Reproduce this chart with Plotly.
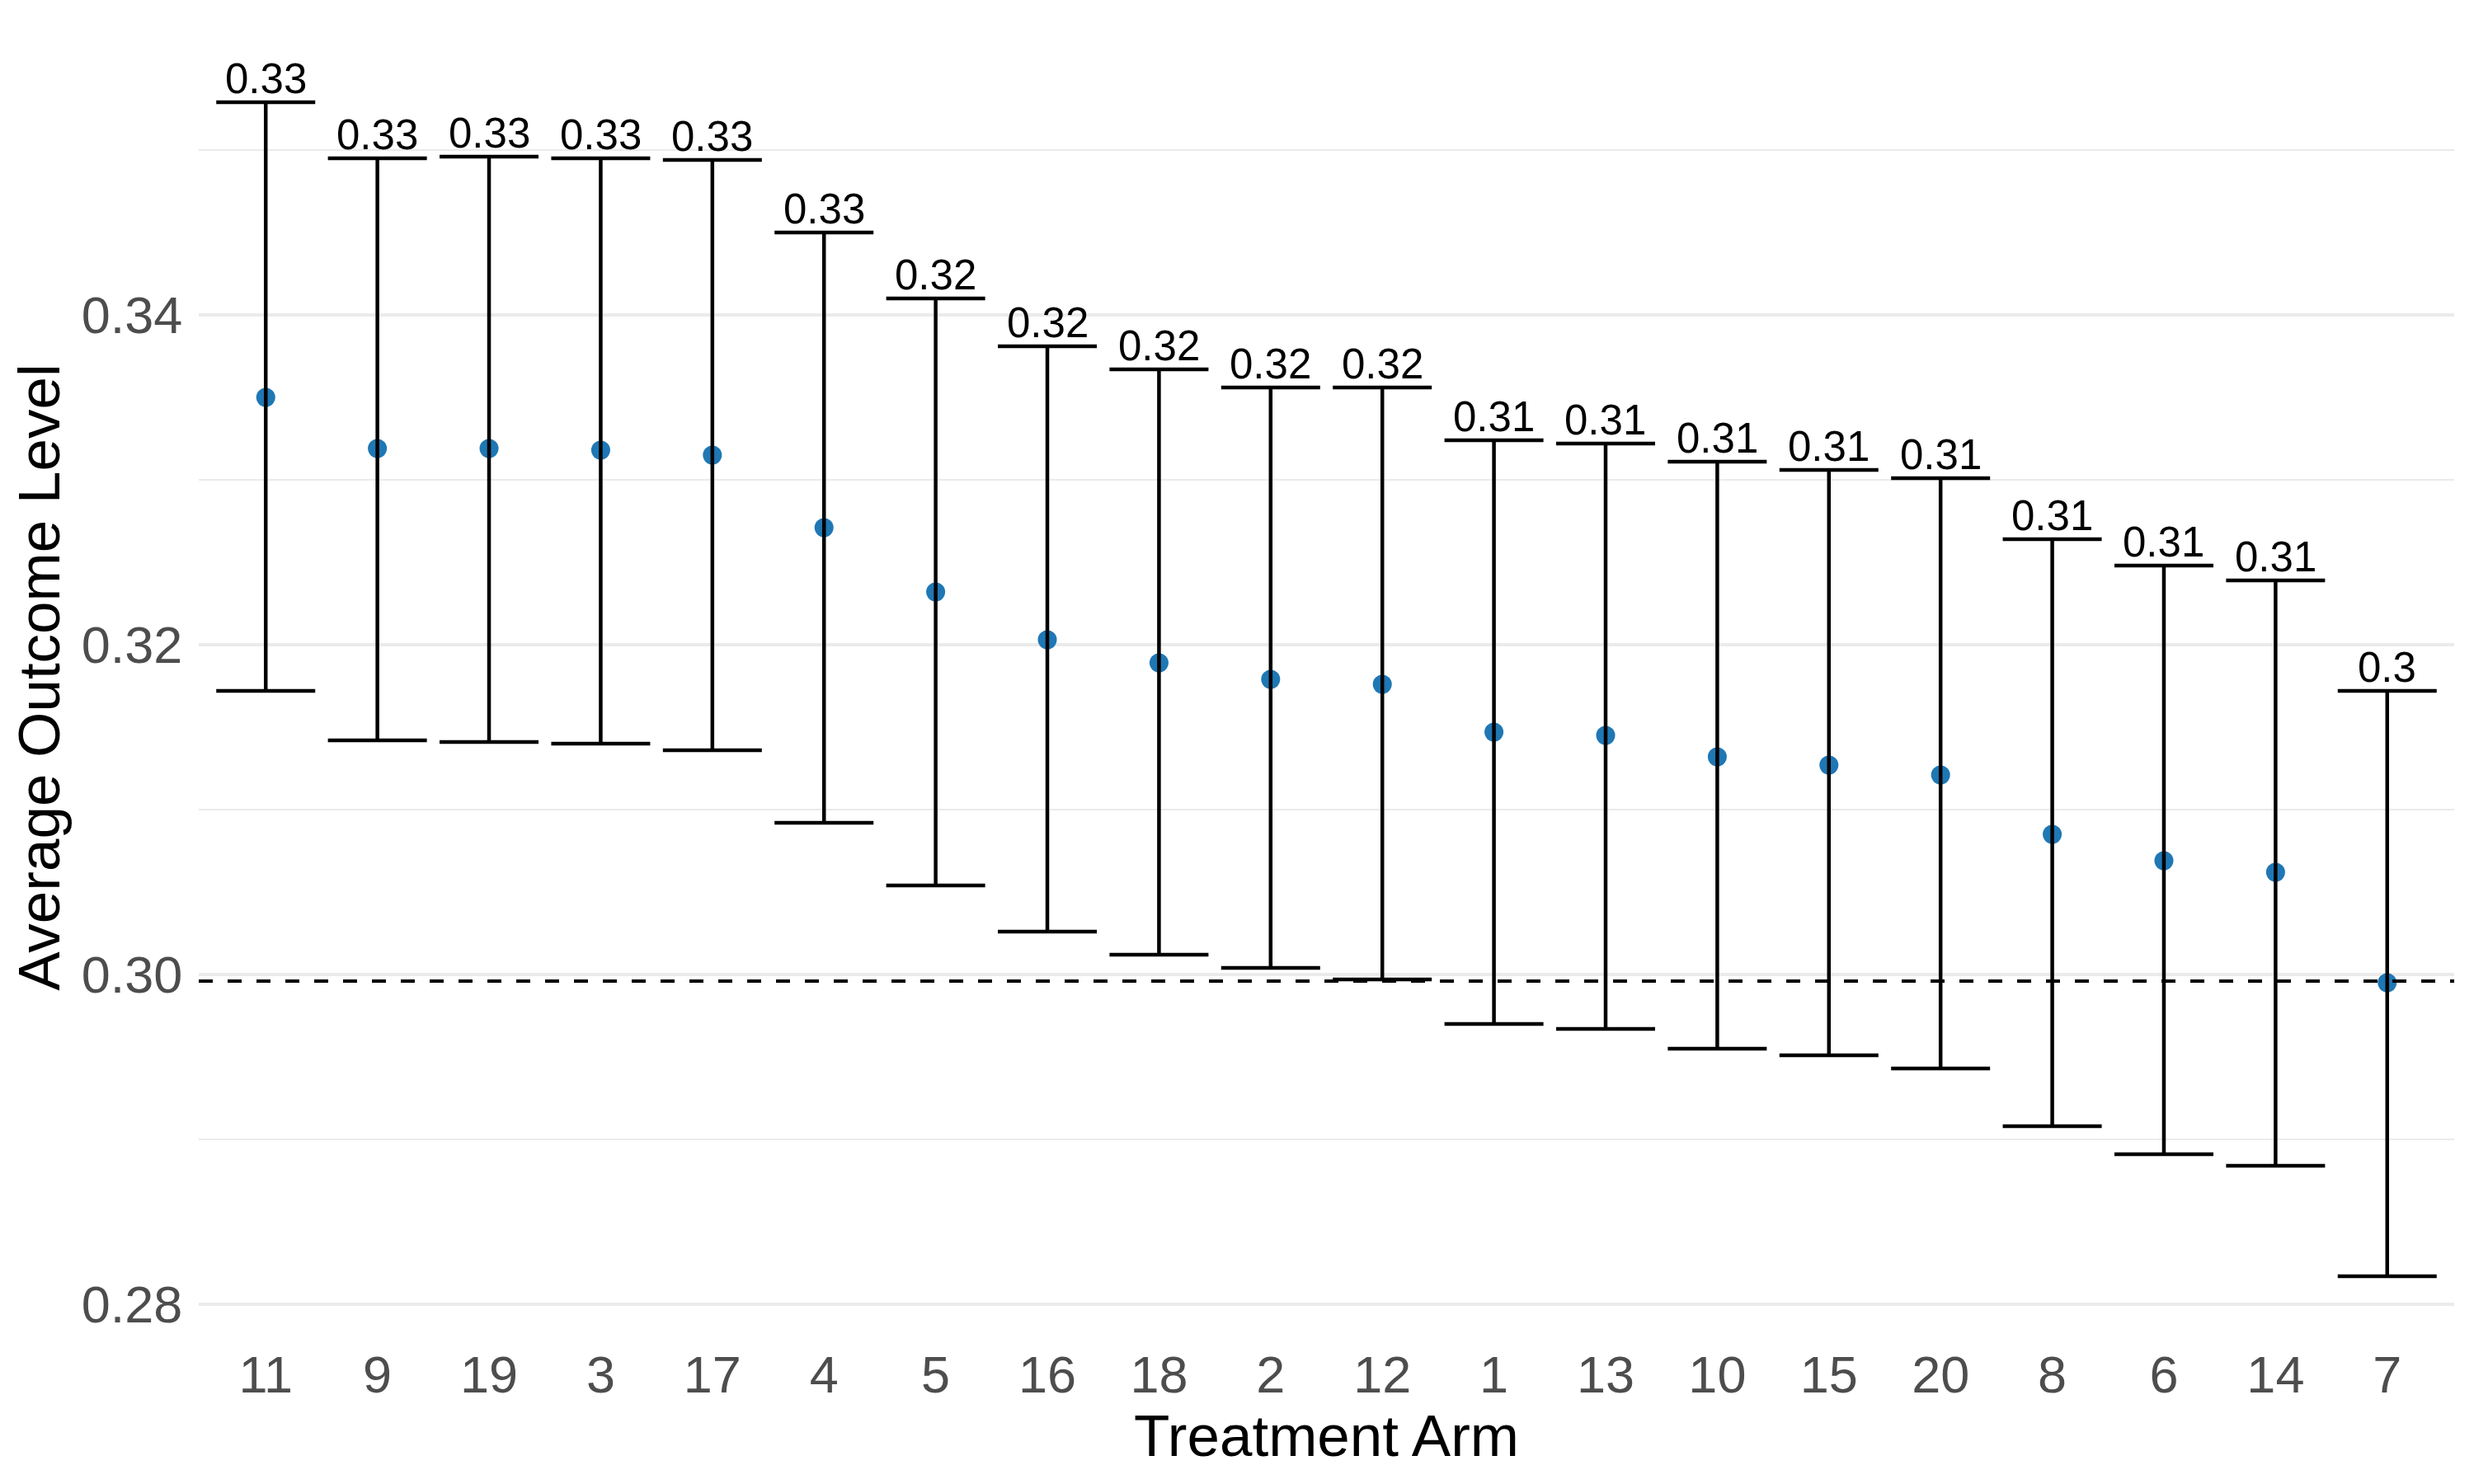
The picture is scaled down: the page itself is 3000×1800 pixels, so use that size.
import plotly.graph_objects as go

# treatment arms, sorted by estimate
arms = ["11", "9", "19", "3", "17", "4", "5", "16", "18", "2",
        "12", "1", "13", "10", "15", "20", "8", "6", "14", "7"]
estimate = [0.3350, 0.3319, 0.3319, 0.3318, 0.3315, 0.3271, 0.3232, 0.3203, 0.3189, 0.3179,
            0.3176, 0.3147, 0.3145, 0.3132, 0.3127, 0.3121, 0.3085, 0.3069, 0.3062, 0.2995]
upper = [0.3529, 0.3495, 0.3496, 0.3495, 0.3494, 0.3450, 0.3410, 0.3381, 0.3367, 0.3356,
         0.3356, 0.3324, 0.3322, 0.3311, 0.3306, 0.3301, 0.3264, 0.3248, 0.3239, 0.3172]
lower = [0.3172, 0.3142, 0.3141, 0.3140, 0.3136, 0.3092, 0.3054, 0.3026, 0.3012, 0.3004,
         0.2997, 0.2970, 0.2967, 0.2955, 0.2951, 0.2943, 0.2908, 0.2891, 0.2884, 0.2817]
labels = ["0.33", "0.33", "0.33", "0.33", "0.33", "0.33", "0.32", "0.32", "0.32", "0.32",
          "0.32", "0.31", "0.31", "0.31", "0.31", "0.31", "0.31", "0.31", "0.31", "0.3"]
control_value = 0.2996

y_ticks = [0.28, 0.30, 0.32, 0.34]
y_ticktext = ["0.28", "0.30", "0.32", "0.34"]

FONT = "Liberation Sans, Arial, sans-serif"

err_plus = [u - e for u, e in zip(upper, estimate)]
err_minus = [e - l for e, l in zip(estimate, lower)]

fig = go.Figure()

# points first so the error bars sit on top of them
fig.add_trace(go.Scatter(
    x=arms, y=estimate, mode="markers",
    marker=dict(color="#1F77B4", size=23),
    showlegend=False, hoverinfo="skip"))

fig.add_trace(go.Scatter(
    x=arms, y=estimate, mode="markers",
    marker=dict(color="rgba(0,0,0,0)", size=1),
    error_y=dict(type="data", symmetric=False, array=err_plus, arrayminus=err_minus,
                 color="black", thickness=4.5, width=60),
    showlegend=False))

fig.add_shape(type="line", xref="paper", yref="y", x0=0, x1=1,
              y0=control_value, y1=control_value,
              line=dict(color="black", width=4, dash="17px,18px"))

# labels above the upper whisker (category axis -> use index positions)
for i, (u, t) in enumerate(zip(upper, labels)):
    fig.add_annotation(x=i, y=u, text=t, showarrow=False, yanchor="bottom",
                       font=dict(family=FONT, size=51, color="black"), yshift=-2)

# the page body adds an 8px offset, so margins are trimmed by that much
fig.update_layout(
    width=3000, height=1800,
    margin=dict(l=233, r=32, t=13, b=186),
    plot_bgcolor="white", paper_bgcolor="white",
    font=dict(family=FONT),
)

fig.update_xaxes(
    type="category", categoryorder="array", categoryarray=arms,
    range=[-0.6, 19.6], showgrid=False, zeroline=False, showline=False,
    ticks="outside", ticklen=8, tickcolor="rgba(0,0,0,0)", ticklabelstandoff=-18,
    tickfont=dict(family=FONT, size=63, color="#4D4D4D"),
    title=dict(text="Treatment Arm", font=dict(family=FONT, size=71, color="black"),
               standoff=2),
    automargin=False,
)

fig.update_yaxes(
    range=[0.278, 0.35805], tickvals=y_ticks, ticktext=y_ticktext,
    showgrid=True, gridcolor="#EBEBEB", gridwidth=4,
    minor=dict(dtick=0.01, tick0=0.28, showgrid=True, gridcolor="#EBEBEB", gridwidth=2),
    zeroline=False, showline=False,
    ticks="outside", ticklen=6, tickcolor="rgba(0,0,0,0)",
    tickfont=dict(family=FONT, size=63, color="#4D4D4D"),
    title=dict(text="Average Outcome Level", font=dict(family=FONT, size=71, color="black"),
               standoff=14),
    automargin=False,
)

fig.write_html("out.html")
